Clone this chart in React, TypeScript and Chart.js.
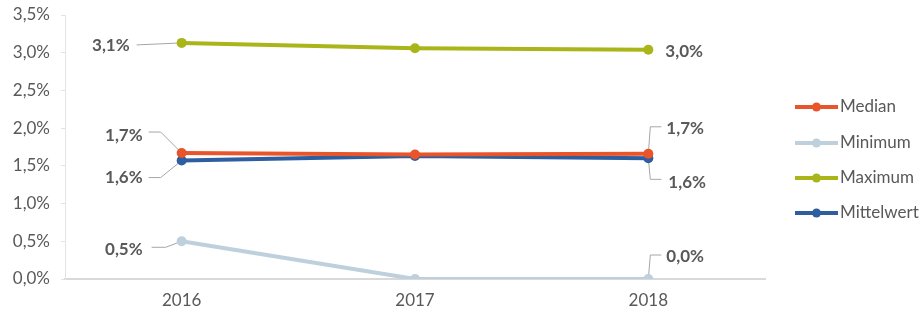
import React, { useEffect, useRef } from "react";
import { Chart, registerables } from "chart.js";

Chart.register(...registerables);

const categories = ["2016", "2017", "2018"];
const seriesNames = ["Median", "Minimum", "Maximum", "Mittelwert"];
const medianValues = [1.67, 1.65, 1.66];
const minimumValues = [0.5, 0.0, 0.0];
const maximumValues = [3.13, 3.06, 3.04];
const mittelwertValues = [1.57, 1.63, 1.6];
const seriesColors = ["#E9552A", "#BDD0DC", "#AAB51A", "#2E5E9F"];
const yTicks = [0, 0.5, 1, 1.5, 2, 2.5, 3, 3.5];

const FONT = "Lato, 'Open Sans', sans-serif";
const TEXT_COLOR = "#595959";

const fmt = (v: number) => v.toFixed(1).replace(".", ",") + "%";

// label layout: dataset index, point index, text anchor offset, alignment, leader polyline (offsets from point)
const labelSpecs = [
  { ds: 2, i: 0, dx: -52, dy: 3, align: "right", leader: [[-45, 2], [0, 0]] },
  { ds: 0, i: 0, dx: -39, dy: -18, align: "right", leader: [[-33, -21], [-21, -21], [0, 0]] },
  { ds: 3, i: 0, dx: -39, dy: 17, align: "right", leader: [[-33, 17], [-21, 17], [0, 0]] },
  { ds: 1, i: 0, dx: -39, dy: 8, align: "right", leader: [[-30, 6], [-16, 6], [0, 0]] },
  { ds: 2, i: 2, dx: 17, dy: 2, align: "left", leader: [] },
  { ds: 0, i: 2, dx: 18, dy: -25, align: "left", leader: [[13, -27], [2, -27], [0, 0]] },
  { ds: 3, i: 2, dx: 20, dy: 24, align: "left", leader: [[0, 0], [2, 21], [13, 21]] },
  { ds: 1, i: 2, dx: 18, dy: -22, align: "left", leader: [[13, -24], [2, -24], [0, 0]] },
];

const labelPlugin = {
  id: "labelPlugin",
  beforeDatasetsDraw(chart: any) {
    const ctx = chart.ctx;
    ctx.save();
    ctx.strokeStyle = "#A6A6A6";
    ctx.lineWidth = 1;
    for (const s of labelSpecs) {
      if (!s.leader.length) continue;
      const pt = chart.getDatasetMeta(s.ds).data[s.i];
      ctx.beginPath();
      s.leader.forEach((o: number[], k: number) => {
        const x = pt.x + o[0];
        const y = pt.y + o[1];
        if (k === 0) ctx.moveTo(x, y);
        else ctx.lineTo(x, y);
      });
      ctx.stroke();
    }
    ctx.restore();
  },
  afterDatasetsDraw(chart: any) {
    const ctx = chart.ctx;
    ctx.save();
    ctx.font = `bold 17px ${FONT}`;
    ctx.fillStyle = TEXT_COLOR;
    ctx.textBaseline = "middle";
    for (const s of labelSpecs) {
      const pt = chart.getDatasetMeta(s.ds).data[s.i];
      const v = chart.data.datasets[s.ds].data[s.i];
      ctx.textAlign = s.align;
      ctx.fillText(fmt(v), pt.x + s.dx, pt.y + s.dy);
    }
    ctx.restore();
  },
  afterDraw(chart: any) {
    const ctx = chart.ctx;
    ctx.save();
    const x0 = 795;
    const ys = [107, 143, 178, 213];
    chart.data.datasets.forEach((d: any, k: number) => {
      const y = ys[k];
      ctx.strokeStyle = d.borderColor;
      ctx.lineWidth = 4;
      ctx.beginPath();
      ctx.moveTo(x0, y);
      ctx.lineTo(x0 + 43, y);
      ctx.stroke();
      ctx.fillStyle = d.borderColor;
      ctx.beginPath();
      ctx.arc(x0 + 21.5, y, 4.5, 0, Math.PI * 2);
      ctx.fill();
      ctx.fillStyle = TEXT_COLOR;
      ctx.font = `17px ${FONT}`;
      ctx.textAlign = "left";
      ctx.textBaseline = "middle";
      ctx.fillText(d.label, x0 + 45, y);
    });
    ctx.restore();
  },
};

export default function App() {
  const ref = useRef<HTMLCanvasElement>(null);
  useEffect(() => {
    document.body.style.margin = "0";
    const values = [medianValues, minimumValues, maximumValues, mittelwertValues];
    const chart = new Chart(ref.current!, {
      type: "line",
      data: {
        labels: categories,
        datasets: seriesNames.map((n, k) => ({
          label: n,
          data: values[k],
          borderColor: seriesColors[k],
          backgroundColor: seriesColors[k],
          borderWidth: 4,
          pointRadius: 5,
          pointHoverRadius: 5,
          pointBorderWidth: 0,
          tension: 0,
        })),
      },
      options: {
        responsive: false,
        animation: false,
        layout: { padding: { left: 0, right: 157, top: 15, bottom: 0 } },
        plugins: { legend: { display: false }, tooltip: { enabled: false } },
        scales: {
          x: {
            offset: true,
            grid: { display: true, drawOnChartArea: false, drawTicks: false, color: "#D9D9D9" },
            border: { display: true, color: "#D9D9D9", width: 2 },
            ticks: { color: TEXT_COLOR, font: { family: FONT, size: 17 }, padding: 11 },
            afterFit: (s: any) => { s.height = 34; s.paddingLeft = 0; s.paddingRight = 0; },
          },
          y: {
            min: 0,
            max: 3.5,
            afterBuildTicks: (s: any) => { s.ticks = yTicks.map((v) => ({ value: v })); },
            grid: { display: true, drawOnChartArea: false, drawTicks: true, tickLength: 4, color: "#E4E4E4" },
            border: { display: true, color: "#E4E4E4", width: 1 },
            ticks: {
              color: TEXT_COLOR,
              font: { family: FONT, size: 17 },
              padding: 11,
              callback: (v: any) => Number(v).toFixed(1).replace(".", ",") + "%",
            },
            afterFit: (s: any) => { s.width = 65; s.paddingTop = 0; s.paddingBottom = 0; },
          },
        },
      },
      plugins: [labelPlugin],
    });
    return () => chart.destroy();
  }, []);
  return (
    <div style={{ width: 922, height: 313, background: "#fff" }}>
      <canvas ref={ref} width={922} height={313} />
    </div>
  );
}
